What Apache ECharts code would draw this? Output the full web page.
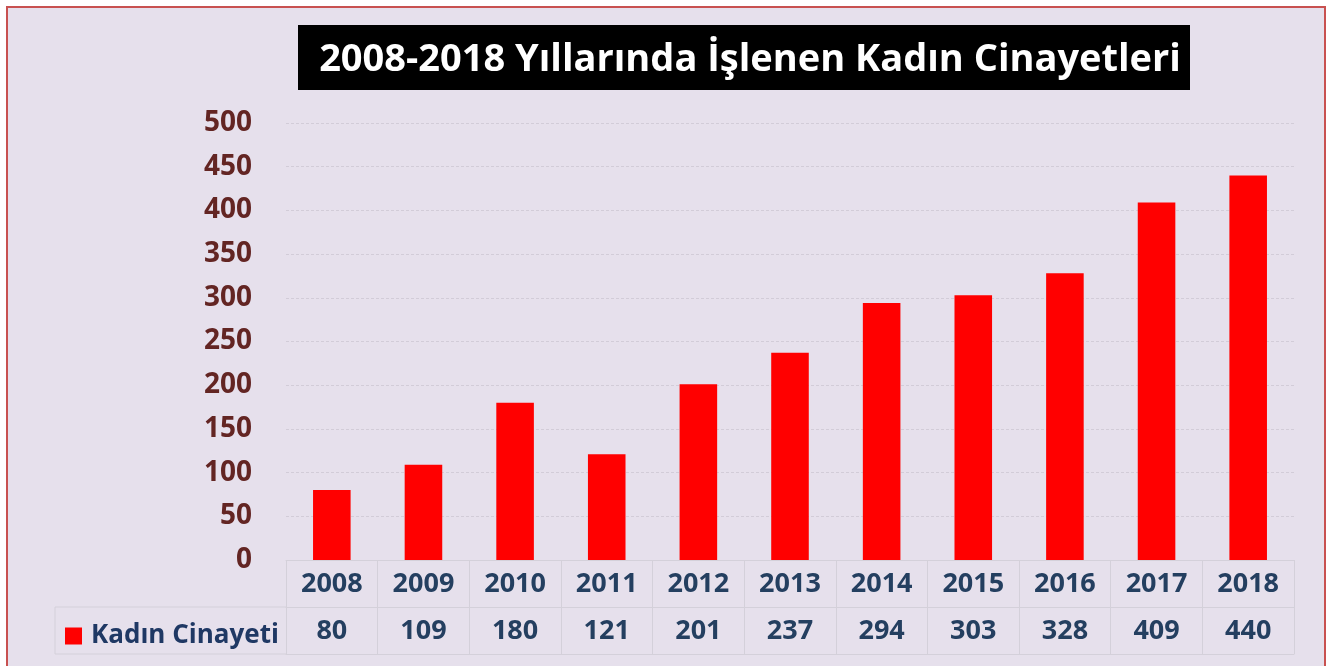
<!DOCTYPE html>
<html>
<head>
<meta charset="utf-8">
<script src="https://cdn.jsdelivr.net/npm/echarts@6/dist/echarts.min.js"></script>
<style>
    body { margin: 0; background: #ffffff; }
    #frame {
        position: absolute; left: 6px; top: 6px;
        width: 1316px; height: 700px;
        border: 2px solid #C85150; background: #E6E0EC;
    }
    #main { position: absolute; left: 0; top: 0; width: 1326px; height: 666px; }
</style>
</head>
<body>
<div id="frame"></div>
<div id="main"></div>
<script>
// chart data
let years = ["2008", "2009", "2010", "2011", "2012", "2013", "2014", "2015", "2016", "2017", "2018"];
let murders = [80, 109, 180, 121, 201, 237, 294, 303, 328, 409, 440];
let seriesName = "Kadın Cinayeti";
let titleText = "2008-2018 Yıllarında İşlenen Kadın Cinayetleri";

let myChart = echarts.init(document.getElementById("main"));

let font = "'Open Sans', sans-serif";
let tableLine = { color: "#D4D0DA", width: 1 };

// grid box, the data table hangs below it
let gridLeft = 286,
    gridRight = 32,
    gridTop = 123,
    gridBottom = 106;
let axisY = 666 - gridBottom;
let rowHeight = 47;

let option = {
    animation: false,
    textStyle: { fontFamily: font },
    title: {
        text: titleText,
        left: 745,
        top: 36,
        textAlign: "center",
        textStyle: { color: "#ffffff", fontSize: 38, fontWeight: "bold", fontFamily: font }
    },
    graphic: [
        {
            type: "rect",
            z: -1,
            shape: { x: 298, y: 25, width: 892, height: 65 },
            style: { fill: "#000000" }
        },
        {
            // legend cell of the data table
            type: "polyline",
            shape: {
                points: [
                    [gridLeft, axisY + rowHeight],
                    [55, axisY + rowHeight],
                    [55, axisY + 2 * rowHeight],
                    [gridLeft, axisY + 2 * rowHeight]
                ]
            },
            style: { stroke: tableLine.color, lineWidth: 1, fill: null }
        }
    ],
    legend: {
        left: 60,
        top: axisY + rowHeight + 11,
        icon: "rect",
        itemWidth: 17,
        itemHeight: 17,
        textStyle: {
            color: "#1F3864",
            fontSize: 26,
            fontWeight: "bold",
            fontFamily: font,
            padding: [0, 0, 0, 4]
        },
        data: [seriesName]
    },
    grid: { left: gridLeft, right: gridRight, top: gridTop, bottom: gridBottom },
    xAxis: [
        {
            type: "category",
            data: years,
            axisLine: { lineStyle: tableLine },
            axisTick: { show: true, interval: 0, length: 2 * rowHeight, lineStyle: tableLine },
            axisLabel: {
                margin: 11,
                color: "#243F60",
                fontSize: 27,
                fontWeight: "bold",
                fontFamily: font
            }
        },
        {
            type: "category",
            position: "bottom",
            offset: rowHeight,
            data: murders.map(String),
            axisLine: { lineStyle: tableLine },
            axisTick: { show: false },
            axisLabel: {
                margin: 11,
                color: "#243F60",
                fontSize: 27,
                fontWeight: "bold",
                fontFamily: font
            }
        },
        {
            type: "category",
            position: "bottom",
            offset: 2 * rowHeight,
            data: years,
            axisLine: { lineStyle: tableLine },
            axisTick: { show: false },
            axisLabel: { show: false }
        }
    ],
    yAxis: {
        type: "value",
        min: 0,
        max: 500,
        interval: 50,
        axisLine: { show: false },
        axisTick: { show: false },
        axisLabel: {
            margin: 34,
            color: "#632523",
            fontSize: 28,
            fontWeight: "bold",
            fontFamily: font
        },
        splitLine: { lineStyle: { color: "#D2CCD8", width: 1, type: [3, 2] } }
    },
    series: [
        {
            name: seriesName,
            type: "bar",
            data: murders,
            barWidth: "41%",
            itemStyle: { color: "#FF0000" }
        }
    ]
};

myChart.setOption(option);
</script>
</body>
</html>
